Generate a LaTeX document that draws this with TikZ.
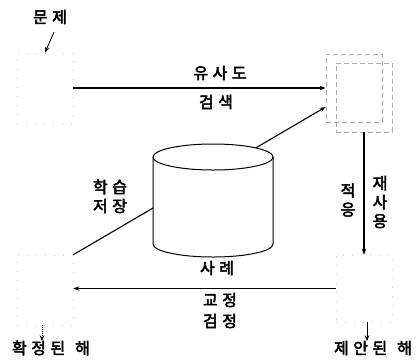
\documentclass[tikz,border=0pt]{standalone}
\usepackage{fontspec}
\setmainfont{Noto Sans CJK KR}
\newfontfamily\krb{Noto Sans CJK KR}[FakeBold=3]
\usetikzlibrary{arrows.meta,calc}
\newcommand{\gp}{\hspace{4.5pt}}
\begin{document}
\begin{tikzpicture}[x=1pt,y=-1pt,
  lbl/.style={font=\krb\fontsize{16}{17}\selectfont, inner sep=0pt},
  faintbox/.style={draw=gray!35, line width=0.6pt, dash pattern=on 1pt off 8pt, minimum width=56pt, inner sep=0pt},
  stackbox/.style={draw=gray!65, line width=0.7pt, dash pattern=on 5pt off 3pt, minimum width=56pt, inner sep=0pt},
  conn/.style={line width=1.1pt, -{Stealth[length=6pt,width=4.5pt]}},
  plain/.style={line width=1.1pt}]
\useasboundingbox (0,0) rectangle (418,360);

% boxes
\node[faintbox, minimum height=70pt] (prob) at (45,88) {};
\node[faintbox, minimum height=70pt] (conf) at (45,290) {};
\node[faintbox, minimum height=67pt] (sol) at (364,288.5) {};
\node[stackbox, minimum height=69pt] (caseB) at (364,97.5) {};
\node[stackbox, minimum height=68pt] (caseA) at (354,88) {};

% labels
\node[lbl] (tprob) at (50,17) {문\gp 제};
\node[lbl] (tsim) at (220,73) {유\gp 사\gp 도};
\node[lbl] (tsrch) at (216,102) {검\gp 색};
\node[lbl] (tlearn) at (110,187) {학\gp 습};
\node[lbl] (tstore) at (110,206) {저\gp 장};
\node[lbl] (tcase) at (217,268) {사\gp 례};
\node[lbl] (tfix) at (220,300) {교\gp 정};
\node[lbl] (tverif) at (220,321) {검\gp 정};
\node[lbl, align=center] (tadapt) at (348,200) {적\\[2pt]응};
\node[lbl, align=center] (treuse) at (380,202) {재\\[2pt]사\\[2pt]용};
\node[lbl] (tsol) at (373,348) {제\gp 안\gp 된\hspace{10pt}해};
\node[lbl] (tconf) at (51,348) {확\gp 정\gp 된\hspace{10pt}해};

% connectors
\coordinate (pstart) at (54,32);
\draw[conn, line width=0.9pt] (pstart) -- (prob.north);
\draw[conn] (prob.east) -- (caseA.west);
\coordinate (dtip) at ([yshift=-19pt]caseA.west);
\draw[conn] (conf.north east) -- (dtip);

% cylinder (drawn over the diagonal line)
\filldraw[fill=white, line width=1pt]
  (153,157) -- (153,244) arc[start angle=180, end angle=0, x radius=60, y radius=13]
  -- (273,157) arc[start angle=0, end angle=-180, x radius=60, y radius=13] -- cycle;
\draw[line width=1pt] (153,157) arc[start angle=180, end angle=0, x radius=60, y radius=13];

\draw[conn] (caseB.south) -- (sol.north);
\draw[conn] (sol.west) -- (sol.west -| conf.east);
\draw[conn, line width=0.9pt, densely dotted] ([xshift=-3pt]conf.south) -- ([xshift=-3pt,yshift=-16pt]conf.south);
\draw[conn, line width=0.9pt] ([xshift=3pt]sol.south) -- ([xshift=3pt,yshift=-19pt]sol.south);
\end{tikzpicture}
\end{document}
